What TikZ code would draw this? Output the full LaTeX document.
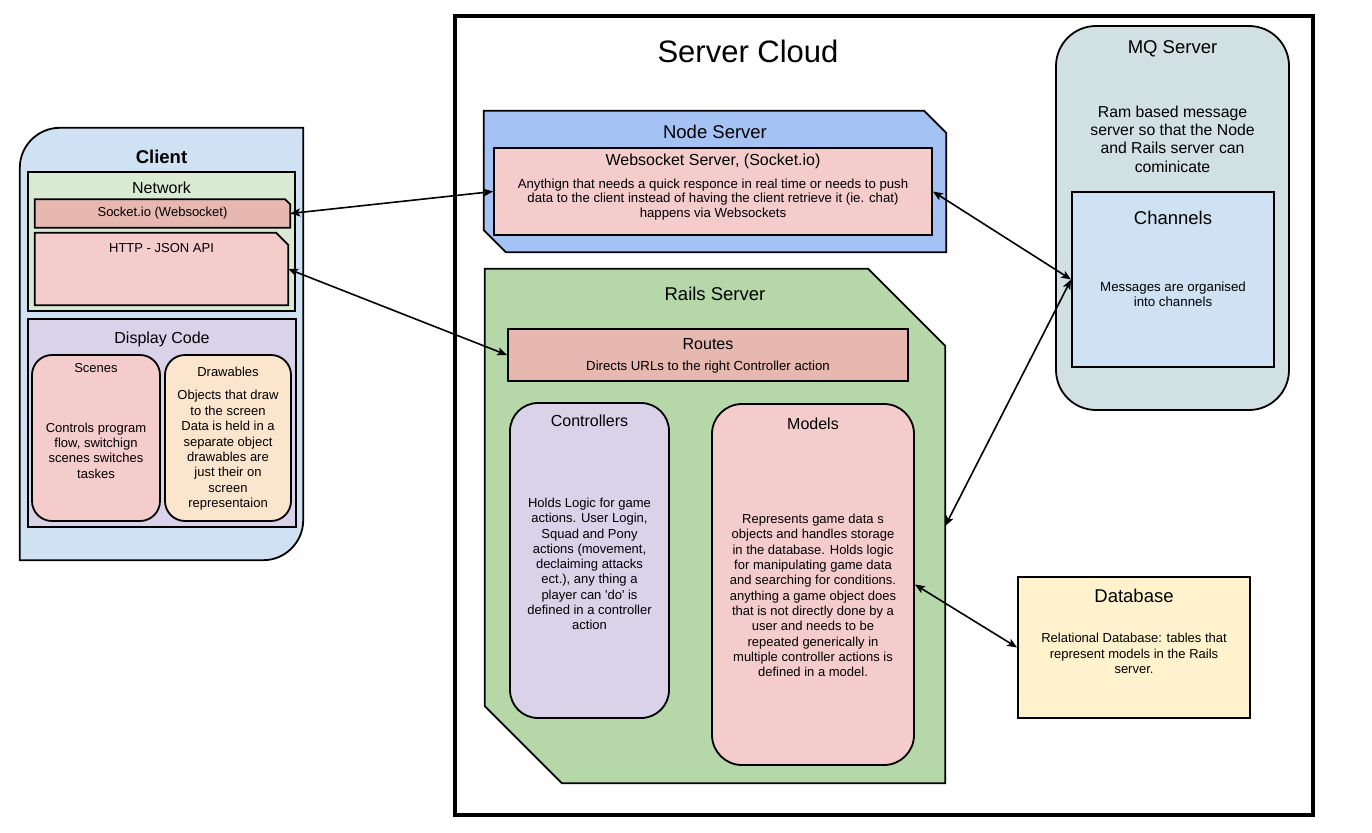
\documentclass[tikz,border=0pt]{standalone}
\usepackage{fontspec}
\setmainfont{Liberation Sans}
\usetikzlibrary{positioning, arrows.meta, calc}
\definecolor{clientblue}{HTML}{CFE2F3}
\definecolor{netgreen}{HTML}{D9EAD3}
\definecolor{salmon}{HTML}{E6B8AF}
\definecolor{pinklight}{HTML}{F4CCCC}
\definecolor{lavender}{HTML}{D9D2E9}
\definecolor{peach}{HTML}{FCE5CD}
\definecolor{nodeblue}{HTML}{A4C2F4}
\definecolor{railsgreen}{HTML}{B6D7A8}
\definecolor{mqgrey}{HTML}{D0E0E3}
\definecolor{chanblue}{HTML}{CFE2F3}
\definecolor{dbyellow}{HTML}{FFF2CC}
\tikzset{
  pane/.style  = {draw=black, line width=1.8pt, inner sep=0pt},
  shell/.style = {inner sep=0pt},
  head/.style  = {font=\fontsize{18.5}{22}\selectfont, inner sep=0pt},
  sub/.style   = {font=\fontsize{16}{19}\selectfont, inner sep=0pt},
  note/.style  = {font=\fontsize{13}{15.3}\selectfont, align=center, inner sep=0pt},
  small/.style = {font=\fontsize{13.2}{14.5}\selectfont, align=center, inner sep=0pt},
  ar/.style    = {{Stealth[length=10pt,width=8pt,inset=2.5pt]}-{Stealth[length=10pt,width=8pt,inset=2.5pt]},
                  line width=1.6pt},
}

\begin{document}
\begin{tikzpicture}[x=1pt, y=-1pt]

  \path[fill=white, use as bounding box] (0,0) rectangle (1372,832);

  % ---- client ----
  \node[shell, minimum width=283pt, minimum height=432pt] (client) at (161.5,344) {};
  \filldraw[pane, fill=clientblue] (client.north east) -- ($(client.north west)+(40,0)$)
       .. controls ($(client.north west)+(18,0)$) and ($(client.north west)+(0,18)$) .. ($(client.north west)+(0,40)$)
       -- (client.south west) -- ($(client.south east)+(-40,0)$)
       .. controls ($(client.south east)+(-18,0)$) and ($(client.south east)+(0,-18)$) .. ($(client.south east)+(0,-40)$)
       -- cycle;
  \node[head, font=\fontsize{18.5}{22}\selectfont\bfseries] (clientT) at ($(client.north)+(0,29)$) {Client};

  \node[pane, fill=netgreen, minimum width=267pt, minimum height=139pt] (net) at (161.5,241.5) {};
  \node[sub] (netT) at ($(net.north)+(0,16.5)$) {Network};

  \node[shell, minimum width=255pt, minimum height=28pt] (sock) at (162.5,213.5) {};
  \filldraw[pane, fill=salmon] (sock.south west) -- (sock.north west) -- ($(sock.north east)+(-5,0)$)
       -- ($(sock.north east)+(0,5)$) -- (sock.south east) -- cycle;
  \node[small, font=\fontsize{13}{15}\selectfont] (sockT) at (sock) {Socket.io (Websocket)};

  \node[shell, minimum width=253pt, minimum height=72pt] (http) at (161.5,269) {};
  \filldraw[pane, fill=pinklight] (http.south west) -- (http.north west) -- ($(http.north east)+(-12,0)$)
       -- ($(http.north east)+(0,12)$) -- (http.south east) -- cycle;
  \node[small, font=\fontsize{13}{15}\selectfont] (httpT) at ($(http.north)+(0,15)$) {HTTP - JSON API};

  \node[pane, fill=lavender, minimum width=268pt, minimum height=208pt] (disp) at (162,423) {};
  \node[sub] (dispT) at ($(disp.north)+(0,21.5)$) {Display Code};

  \node[pane, fill=pinklight, rounded corners=20pt, minimum width=128pt, minimum height=166pt] (scenes) at (96,438) {};
  \node[note] (scenesT) at ($(scenes.north)+(0,14)$) {Scenes};
  \node[note] (scenesB) at ($(scenes)+(0,12.5)$) {Controls program\\flow, switchign\\scenes switches\\taskes};

  \node[pane, fill=peach, rounded corners=20pt, minimum width=126pt, minimum height=166pt] (draws) at (228,438) {};
  \node[note] (drawsT) at ($(draws.north)+(0,17.5)$) {Drawables};
  \node[note, font=\fontsize{13}{15.4}\selectfont] (drawsB) at ($(draws)+(0,12.5)$)
       {Objects that draw\\to the screen\\Data is held in a\\separate object\\drawables are\\just their on\\screen\\representaion};

  % ---- server cloud ----
  \node[draw=black, line width=4pt, minimum width=858pt, minimum height=799pt] (cloud) at (884,415.5) {};
  \node[inner sep=0pt, font=\fontsize{31}{36}\selectfont] (cloudT) at ($(cloud.north)+(-136,37)$) {Server Cloud};

  \node[shell, minimum width=462pt, minimum height=141pt] (nodesrv) at (715,181.5) {};
  \filldraw[pane, fill=nodeblue] (nodesrv.north west) -- ($(nodesrv.north east)+(-22,0)$)
       -- ($(nodesrv.north east)+(0,22)$) -- (nodesrv.south east) -- ($(nodesrv.south west)+(22,0)$)
       -- ($(nodesrv.south west)+(0,-22)$) -- cycle;
  \node[head] (nodesrvT) at ($(nodesrv.north)+(0,21)$) {Node Server};

  \node[pane, fill=pinklight, minimum width=438pt, minimum height=87pt] (ws) at (713,191.5) {};
  \node[sub] (wsT) at ($(ws.north)+(0,14)$) {Websocket Server, (Socket.io)};
  \node[small] (wsB) at ($(ws)+(0,8)$)
       {Anythign that needs a quick responce in real time or needs to push\\data to the client instead of having the client retrieve it (ie. chat)\\happens via Websockets};

  \node[shell, minimum width=460pt, minimum height=514pt] (rails) at (715,526) {};
  \filldraw[pane, fill=railsgreen] (rails.north west) -- ($(rails.north east)+(-77,0)$)
       -- ($(rails.north east)+(0,77)$) -- (rails.south east) -- ($(rails.south west)+(77,0)$)
       -- ($(rails.south west)+(0,-77)$) -- cycle;
  \node[head] (railsT) at ($(rails.north)+(0,25)$) {Rails Server};

  \node[pane, fill=salmon, minimum width=400pt, minimum height=52pt] (routes) at (708,355) {};
  \node[sub] (routesT) at ($(routes.north)+(0,16)$) {Routes};
  \node[small] (routesB) at ($(routes.north)+(0,38.5)$) {Directs URLs to the right Controller action};

  \node[pane, fill=lavender, rounded corners=28pt, minimum width=159pt, minimum height=315pt] (ctrl) at (589.5,560.5) {};
  \node[sub] (ctrlT) at ($(ctrl.north)+(0,19)$) {Controllers};
  \node[note] (ctrlB) at ($(ctrl)+(0,3.5)$)
       {Holds Logic for game\\actions. User Login,\\Squad and Pony\\actions (movement,\\declaiming attacks\\ect.), any thing a\\player can \textquotesingle do\textquotesingle{} is\\defined in a controller\\action};

  \node[pane, fill=pinklight, rounded corners=30pt, minimum width=202pt, minimum height=361pt] (models) at (813,584.5) {};
  \node[sub] (modelsT) at ($(models.north)+(0,20.5)$) {Models};
  \node[note] (modelsB) at ($(models)+(0,11)$)
       {Represents game data s\\objects and handles storage\\in the database. Holds logic\\for manipulating game data\\and searching for conditions.\\anything a game object does\\that is not directly done by a\\user and needs to be\\repeated generically in\\multiple controller actions is\\defined in a model.};

  \node[pane, fill=mqgrey, rounded corners=40pt, minimum width=233pt, minimum height=384pt] (mq) at (1172.5,218) {};
  \node[head] (mqT) at ($(mq.north)+(0,23.5)$) {MQ Server};
  \node[note, font=\fontsize{15.8}{18.3}\selectfont] (mqB) at ($(mq.north)+(0,114)$)
       {Ram based message\\server so that the Node\\and Rails server can\\cominicate};

  \node[pane, fill=chanblue, minimum width=202pt, minimum height=175pt] (chan) at (1173,279.5) {};
  \node[head] (chanT) at ($(chan.north)+(0,27)$) {Channels};
  \node[small, font=\fontsize{13.3}{15}\selectfont] (chanB) at ($(chan)+(0,14.5)$) {Messages are organised\\into channels};

  \node[pane, fill=dbyellow, minimum width=232pt, minimum height=141pt] (db) at (1134,647.5) {};
  \node[head] (dbT) at ($(db.north)+(0,20)$) {Database};
  \node[note, font=\fontsize{13}{15.5}\selectfont] (dbB) at ($(db)+(0,6)$)
       {Relational Database: tables that\\represent models in the Rails\\server.};

  % ---- links ----
  \draw[ar] (sock.east) -- (ws.west);
  \draw[ar] (http.east) -- (routes.west);
  \draw[ar] (ws.east) -- (chan.west);
  \draw[ar] (chan.west) -- (rails.east);
  \draw[ar] (models.east) -- (db.west);

\end{tikzpicture}
\end{document}
